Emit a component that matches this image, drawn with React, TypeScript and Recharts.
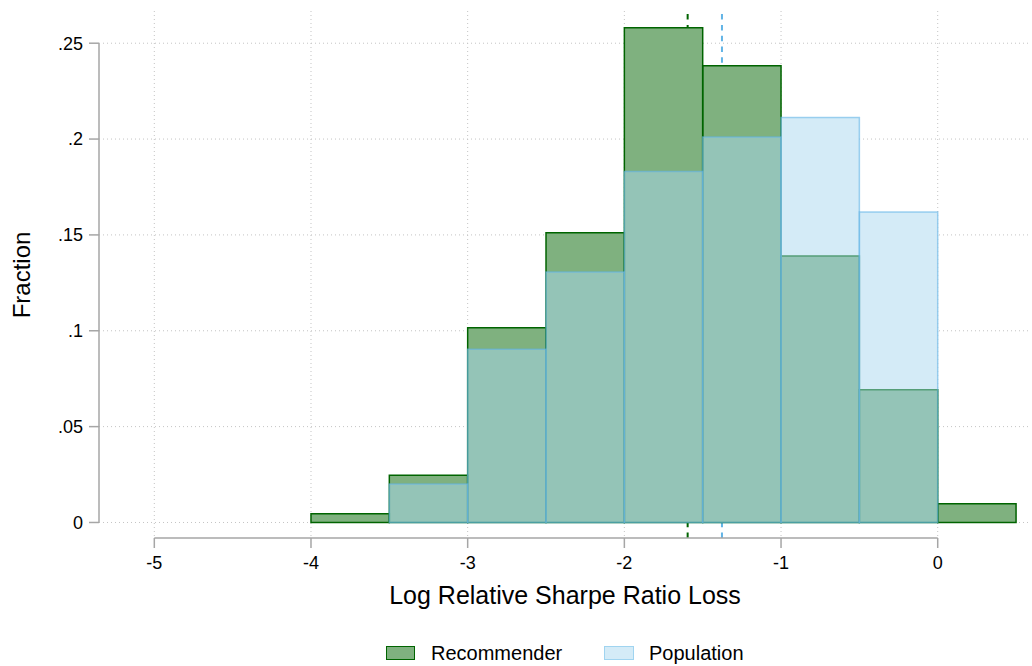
import React from 'react';
import { ComposedChart, XAxis, YAxis, CartesianGrid, ReferenceArea, ReferenceLine } from 'recharts';

// bin left edges, width 0.5
const binStarts = [-4, -3.5, -3, -2.5, -2, -1.5, -1, -0.5, 0];
const binWidth = 0.5;
const recommender = [0.0046, 0.0246, 0.1016, 0.1511, 0.2581, 0.2383, 0.1390, 0.0692, 0.0098];
const population = [0, 0.0201, 0.0903, 0.1307, 0.1831, 0.2011, 0.2112, 0.1620, 0];

const xTicks = [-5, -4, -3, -2, -1, 0];
const yTicks = [0, 0.05, 0.1, 0.15, 0.2, 0.25];

const recMedian = -1.596;
const popMedian = -1.377;

const X_MIN = -5.353;
const X_MAX = 0.589;
const Y_MIN = -0.0081;
const Y_MAX = 0.2668;

const FONT = "Arial, 'Liberation Sans', Helvetica, sans-serif";
const AXIS_GRAY = '#a6a6a6';
const GREEN = '#006400';
const BLUE_STROKE = '#62b4e6';
const BLUE_FILL = '#a9d7ef';

const fmtY = (v: number) => (v === 0 ? '0' : String(v).replace(/^0/, ''));

const bars = binStarts.map((x0, i) => ({ x0, x1: x0 + binWidth, rec: recommender[i], pop: population[i] }));

export default function App() {
  return (
    <div style={{ position: 'absolute', left: 0, top: 0, width: 1032, height: 666, background: '#fff', fontFamily: FONT }}>
      <ComposedChart width={1032} height={666} data={bars} margin={{ top: 11, right: 2, left: 0, bottom: 88 }}>
        <CartesianGrid stroke="#c4c4c4" strokeDasharray="1 3" strokeWidth={1} horizontalValues={yTicks} verticalValues={xTicks} />
        <XAxis
          type="number"
          dataKey="x0"
          domain={[X_MIN, X_MAX]}
          allowDataOverflow
          ticks={xTicks}
          height={40}
          axisLine={false}
          tickLine={{ stroke: AXIS_GRAY, strokeWidth: 1.5 }}
          tickSize={10}
          tickMargin={8}
          tick={{ fill: '#000', fontSize: 18, fontFamily: FONT }}
        />
        <YAxis
          type="number"
          domain={[Y_MIN, Y_MAX]}
          allowDataOverflow
          ticks={yTicks}
          width={99}
          axisLine={false}
          tickLine={{ stroke: AXIS_GRAY, strokeWidth: 1.5 }}
          tickSize={10}
          tickMargin={6}
          tickFormatter={fmtY}
          tick={{ fill: '#000', fontSize: 18, fontFamily: FONT }}
        />
        <ReferenceLine x={recMedian} stroke={GREEN} strokeWidth={2} strokeDasharray="5.5 5.3" zIndex={-50} />
        <ReferenceLine x={popMedian} stroke={BLUE_STROKE} strokeWidth={2} strokeDasharray="5.5 5.3" zIndex={-50} />
        {bars.map((b) => (
          <ReferenceArea key={'w' + b.x0} x1={b.x0} x2={b.x1} y1={0} y2={Math.max(b.rec, b.pop)} fill="#fff" fillOpacity={1} stroke="none" />
        ))}
        {bars.filter((b) => b.rec > 0).map((b) => (
          <ReferenceArea key={'r' + b.x0} x1={b.x0} x2={b.x1} y1={0} y2={b.rec} fill={GREEN} fillOpacity={0.5} stroke={GREEN} strokeWidth={1.5} strokeOpacity={1} />
        ))}
        {bars.filter((b) => b.pop > 0).map((b) => (
          <ReferenceArea key={'p' + b.x0} x1={b.x0} x2={b.x1} y1={0} y2={b.pop} fill={BLUE_FILL} fillOpacity={0.5} stroke={BLUE_STROKE} strokeWidth={1.5} strokeOpacity={0.6} />
        ))}
        {/* Stata-style axis lines spanning only the tick range */}
        <ReferenceLine segment={[{ x: X_MIN, y: 0 }, { x: X_MIN, y: 0.25 }]} stroke={AXIS_GRAY} strokeWidth={1.5} ifOverflow="visible" />
        <ReferenceLine segment={[{ x: -5, y: Y_MIN }, { x: 0, y: Y_MIN }]} stroke={AXIS_GRAY} strokeWidth={1.5} ifOverflow="visible" />
      </ComposedChart>

      <div style={{ position: 'absolute', left: 22, top: 275, transform: 'translate(-50%, -50%) rotate(-90deg)', fontSize: 24, whiteSpace: 'nowrap', color: '#000' }}>
        Fraction
      </div>
      <div style={{ position: 'absolute', left: 565, top: 595, transform: 'translate(-50%, -50%)', fontSize: 25, whiteSpace: 'nowrap', color: '#000' }}>
        Log Relative Sharpe Ratio Loss
      </div>

      <div style={{ position: 'absolute', left: 386, top: 646, width: 29, height: 14, boxSizing: 'border-box', background: 'rgba(0,100,0,0.5)', border: `1.5px solid ${GREEN}` }} />
      <div style={{ position: 'absolute', left: 431, top: 653, transform: 'translateY(-50%)', fontSize: 20, whiteSpace: 'nowrap', color: '#000' }}>
        Recommender
      </div>
      <div style={{ position: 'absolute', left: 604, top: 646, width: 30, height: 14, boxSizing: 'border-box', background: 'rgba(169,215,239,0.5)', border: '1.5px solid #a0d4f0' }} />
      <div style={{ position: 'absolute', left: 649, top: 653, transform: 'translateY(-50%)', fontSize: 20, whiteSpace: 'nowrap', color: '#000' }}>
        Population
      </div>
    </div>
  );
}
